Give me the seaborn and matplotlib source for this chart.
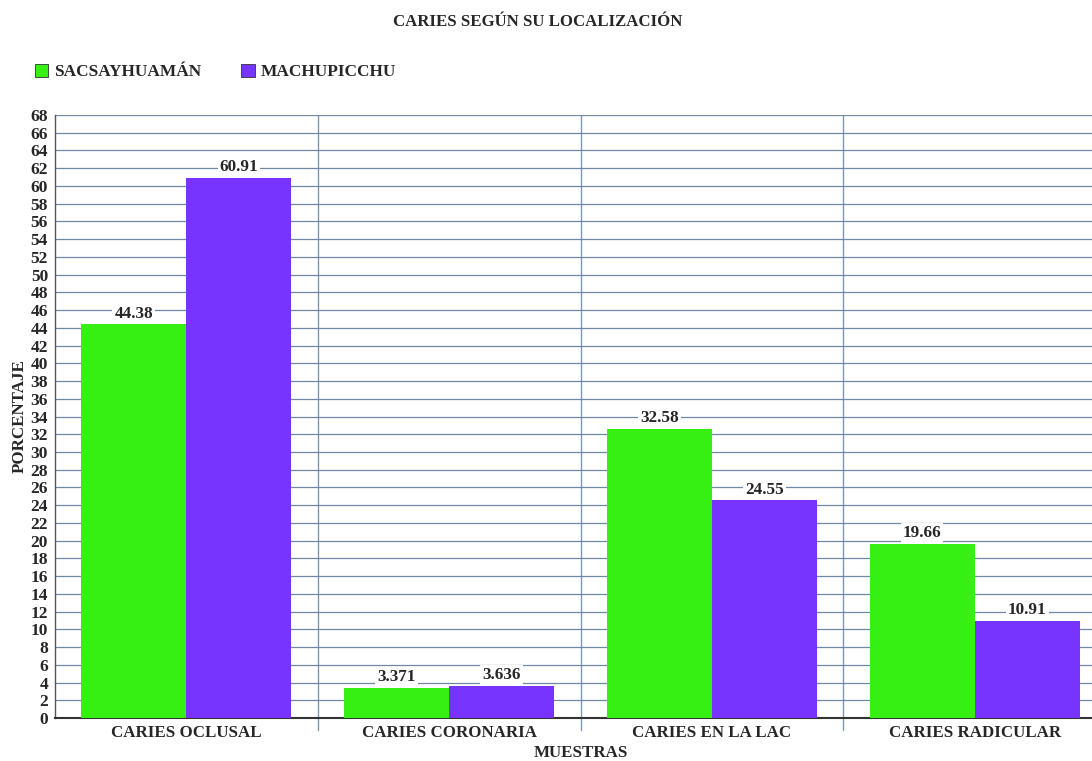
import pandas as pd
import matplotlib.pyplot as plt
import seaborn as sns

# Datos
categorias = ["CARIES OCLUSAL", "CARIES CORONARIA", "CARIES EN LA LAC", "CARIES RADICULAR"]
grupos = ["SACSAYHUAMÁN", "MACHUPICCHU"]
sacsayhuaman = [44.38, 3.371, 32.58, 19.66]
machupicchu = [60.91, 3.636, 24.55, 10.91]
etiquetas_sac = ["44.38", "3.371", "32.58", "19.66"]
etiquetas_mac = ["60.91", "3.636", "24.55", "10.91"]
colores = ["#36F014", "#7733FF"]

df = pd.DataFrame({
    "muestra": categorias * 2,
    "grupo": [grupos[0]] * 4 + [grupos[1]] * 4,
    "valor": sacsayhuaman + machupicchu,
})

sns.set_style("white")
plt.rcParams["font.family"] = ["Liberation Serif", "DejaVu Serif"]
plt.rcParams["font.weight"] = "bold"

fig = plt.figure(figsize=(10.92, 7.61), dpi=100)
W, H = 1092, 761
ax = fig.add_axes([55 / W, 1 - 718 / H, (1106 - 55) / W, (718 - 115) / H])

sns.barplot(data=df, x="muestra", y="valor", hue="grupo", palette=colores,
            saturation=1, width=0.8, ax=ax, zorder=3, linewidth=0)

# Etiquetas de valor con fondo blanco
for cont, labs in zip(ax.containers, [etiquetas_sac, etiquetas_mac]):
    ax.bar_label(cont, labels=labs, padding=2, fontsize=12.3, fontweight="bold",
                 bbox=dict(facecolor="white", edgecolor="none", pad=1.5), zorder=4)

ax.set_ylim(0, 68)
ax.set_xlim(-0.5, 3.5)
ax.set_yticks(range(0, 69, 2))
ax.tick_params(axis="y", labelsize=12.5, length=4, width=1, color="#555555", pad=1)
ax.tick_params(axis="x", labelsize=12.2, length=0, pad=5)
for t in ax.get_yticklabels() + ax.get_xticklabels():
    t.set_fontweight("bold")

# Rejilla
ax.grid(axis="y", color="#6f88a8", linewidth=0.9, zorder=0)
for xb in [0.5, 1.5, 2.5]:
    ax.axvline(xb, color="#7f97b5", linewidth=1, zorder=0)
    ax.plot([xb, xb], [0, -0.02], transform=ax.get_xaxis_transform(),
            color="#7f97b5", lw=1, clip_on=False)

for s in ["top", "right"]:
    ax.spines[s].set_visible(False)
ax.spines["left"].set_color("#555555")
ax.spines["bottom"].set_color("#333333")
ax.spines["bottom"].set_linewidth(1.5)
ax.spines["left"].set_linewidth(1)

ax.set_xlabel("MUESTRAS", fontsize=12.2, fontweight="bold")
ax.xaxis.set_label_coords(0.5, (718 - 753) / 603)
ax.xaxis.label.set_va("center")
ax.set_ylabel("PORCENTAJE", fontsize=12.2, fontweight="bold", labelpad=2)

fig.text(538 / W, 1 - 22 / H, "CARIES SEGÚN SU LOCALIZACIÓN", ha="center", va="center",
         fontsize=12.1, fontweight="bold")

ax.legend(loc="center left", bbox_to_anchor=(19 / W, 1 - 72 / H),
          bbox_transform=fig.transFigure, ncol=2, frameon=False,
          handlelength=0.8, handleheight=0.8, handletextpad=0.35, columnspacing=2.3,
          prop={"size": 12.4, "weight": "bold"})
for h in ax.get_legend().legend_handles:
    h.set_edgecolor("#333333")
    h.set_linewidth(0.6)

plt.savefig("out.png", dpi=100)
